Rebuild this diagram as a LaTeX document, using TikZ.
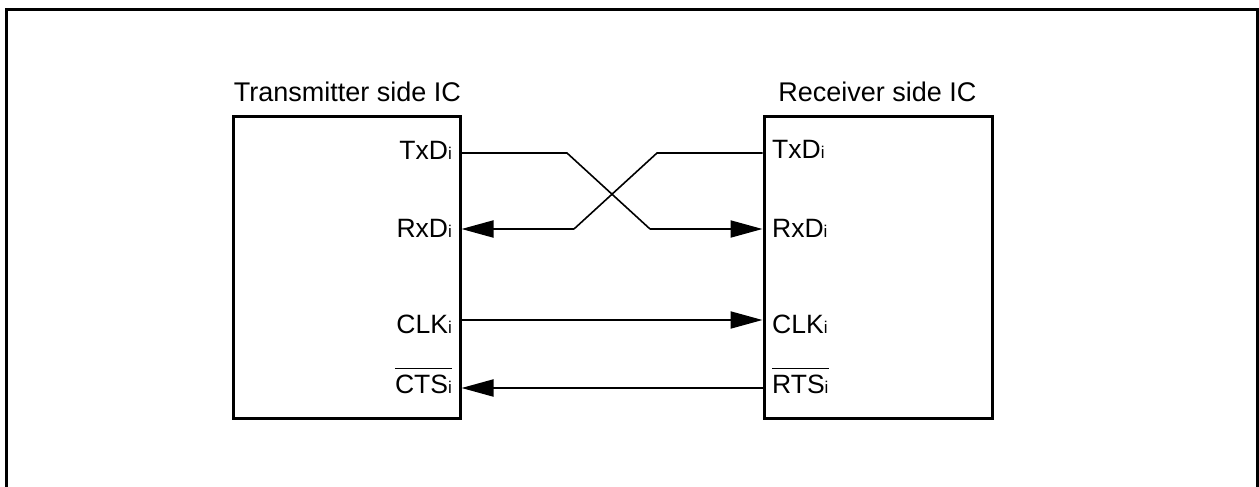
\documentclass[tikz,border=0pt]{standalone}
\usepackage{fontspec}
\setmainfont{Liberation Sans}
\usetikzlibrary{arrows.meta}
\tikzset{
  icbox/.style={draw, line width=3pt, inner sep=0pt},
  title/.style={anchor=base, inner sep=0pt, font=\fontsize{27}{31}\selectfont},
  pinl/.style={anchor=base east, inner sep=0pt, font=\fontsize{26.5}{30}\selectfont},
  pinr/.style={anchor=base west, inner sep=0pt, font=\fontsize{26.5}{30}\selectfont},
  wire/.style={line width=1.6pt},
  sig/.style={line width=2pt, -{Triangle[length=32pt,width=17pt]}},
  bar/.style={line width=1.5pt},
}
\newcommand{\pinsub}{{\fontsize{17}{20}\selectfont i}}
\begin{document}
\begin{tikzpicture}[x=1pt,y=-1pt]
\useasboundingbox (0,0) rectangle (1259,487);
% outer frame (open at bottom)
\draw[line width=3pt] (6.5,487) -- (6.5,9.5) -- (1257.5,9.5) -- (1257.5,487);
% IC boxes
\node[icbox, minimum width=227pt, minimum height=302pt] (tx) at (346.5,267) {};
\node[icbox, minimum width=228pt, minimum height=302pt] (rx) at (878,267) {};
\node[title] (txt) at (347.5,102) {Transmitter side IC};
\node[title] (rxt) at (877.5,102) {Receiver side IC};
% pin labels
\node[pinl] (ltx) at (452,159) {TxD\pinsub};
\node[pinl] (lrx) at (452,237) {RxD\pinsub};
\node[pinl] (lclk) at (452,333) {CLK\pinsub};
\node[pinl] (lcts) at (452,393) {CTS\pinsub};
\node[pinr] (rtx) at (772,158) {TxD\pinsub};
\node[pinr] (rrx) at (772,237) {RxD\pinsub};
\node[pinr] (rclk) at (772,333) {CLK\pinsub};
\node[pinr] (rrts) at (772,393) {RTS\pinsub};
% overbars (active-low)
\draw[bar] ([yshift=6pt]lcts.north west) -- ([yshift=6pt]lcts.north east);
\draw[bar] ([yshift=6pt]rrts.north west) -- ([yshift=6pt]rrts.north east);
% pin points on box edges
\coordinate (pLtx) at (tx.east |- 0,153);
\coordinate (pLrx) at (tx.east |- 0,229);
\coordinate (pLclk) at (tx.east |- 0,320);
\coordinate (pLcts) at (tx.east |- 0,388);
\coordinate (pRtx) at (rx.west |- 0,153);
\coordinate (pRrx) at (rx.west |- 0,229);
\coordinate (pRclk) at (rx.west |- 0,320);
\coordinate (pRrts) at (rx.west |- 0,388);
% connectors
\draw[wire] (pLtx) -- (567,153) -- (650,229);
\draw[sig] (650,229) -- (pRrx);
\draw[wire] (pRtx) -- (657,153) -- (574,229);
\draw[sig] (574,229) -- (pLrx);
\draw[sig] (pLclk) -- (pRclk);
\draw[sig] (pRrts) -- (pLcts);
\end{tikzpicture}
\end{document}
